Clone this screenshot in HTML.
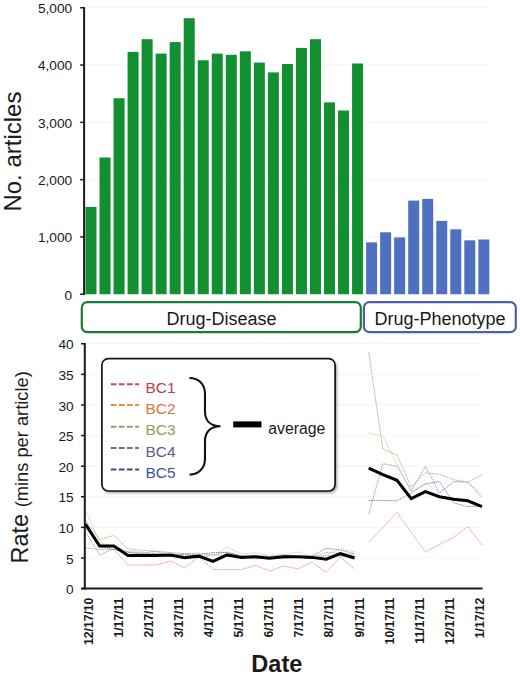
<!DOCTYPE html><html><head><meta charset="utf-8"><style>html,body{margin:0;padding:0;background:#fff;}svg{display:block;}text{font-family:"Liberation Sans",sans-serif;}</style></head><body>
<svg width="520" height="676" viewBox="0 0 520 676">
<line x1="85" x2="489" y1="236.95" y2="236.95" stroke="#f6f6f6" stroke-width="1.2"/>
<line x1="85" x2="489" y1="179.65" y2="179.65" stroke="#f6f6f6" stroke-width="1.2"/>
<line x1="85" x2="489" y1="122.35" y2="122.35" stroke="#f6f6f6" stroke-width="1.2"/>
<line x1="85" x2="489" y1="65.05" y2="65.05" stroke="#f6f6f6" stroke-width="1.2"/>
<line x1="85" x2="489" y1="7.75" y2="7.75" stroke="#f6f6f6" stroke-width="1.2"/>
<rect x="85.50" y="206.90" width="11.0" height="87.35" fill="#128f31"/>
<rect x="99.53" y="157.50" width="11.0" height="136.75" fill="#128f31"/>
<rect x="113.56" y="98.20" width="11.0" height="196.05" fill="#128f31"/>
<rect x="127.59" y="51.90" width="11.0" height="242.35" fill="#128f31"/>
<rect x="141.62" y="39.20" width="11.0" height="255.05" fill="#128f31"/>
<rect x="155.65" y="53.60" width="11.0" height="240.65" fill="#128f31"/>
<rect x="169.68" y="42.10" width="11.0" height="252.15" fill="#128f31"/>
<rect x="183.71" y="18.20" width="11.0" height="276.05" fill="#128f31"/>
<rect x="197.74" y="60.30" width="11.0" height="233.95" fill="#128f31"/>
<rect x="211.77" y="53.60" width="11.0" height="240.65" fill="#128f31"/>
<rect x="225.80" y="54.80" width="11.0" height="239.45" fill="#128f31"/>
<rect x="239.83" y="51.30" width="11.0" height="242.95" fill="#128f31"/>
<rect x="253.86" y="62.60" width="11.0" height="231.65" fill="#128f31"/>
<rect x="267.89" y="72.40" width="11.0" height="221.85" fill="#128f31"/>
<rect x="281.92" y="64.00" width="11.0" height="230.25" fill="#128f31"/>
<rect x="295.95" y="47.90" width="11.0" height="246.35" fill="#128f31"/>
<rect x="309.98" y="39.20" width="11.0" height="255.05" fill="#128f31"/>
<rect x="324.01" y="102.40" width="11.0" height="191.85" fill="#128f31"/>
<rect x="338.04" y="110.50" width="11.0" height="183.75" fill="#128f31"/>
<rect x="352.07" y="63.50" width="11.0" height="230.75" fill="#128f31"/>
<rect x="366.10" y="242.40" width="11.0" height="51.85" fill="#4f70c0"/>
<rect x="380.13" y="232.30" width="11.0" height="61.95" fill="#4f70c0"/>
<rect x="394.16" y="237.40" width="11.0" height="56.85" fill="#4f70c0"/>
<rect x="408.19" y="200.60" width="11.0" height="93.65" fill="#4f70c0"/>
<rect x="422.22" y="198.90" width="11.0" height="95.35" fill="#4f70c0"/>
<rect x="436.25" y="220.90" width="11.0" height="73.35" fill="#4f70c0"/>
<rect x="450.28" y="229.30" width="11.0" height="64.95" fill="#4f70c0"/>
<rect x="464.31" y="240.30" width="11.0" height="53.95" fill="#4f70c0"/>
<rect x="478.34" y="239.50" width="11.0" height="54.75" fill="#4f70c0"/>
<line x1="84.1" x2="84.1" y1="7" y2="295.00" stroke="#1a1a1a" stroke-width="2"/>
<line x1="80.2" x2="84.1" y1="294.25" y2="294.25" stroke="#1a1a1a" stroke-width="1.5"/>
<text x="72.2" y="299.55" font-size="13.7" text-anchor="end" fill="#1a1a1a">0</text>
<line x1="80.2" x2="84.1" y1="236.95" y2="236.95" stroke="#1a1a1a" stroke-width="1.5"/>
<text x="72.2" y="242.25" font-size="13.7" text-anchor="end" fill="#1a1a1a">1,000</text>
<line x1="80.2" x2="84.1" y1="179.65" y2="179.65" stroke="#1a1a1a" stroke-width="1.5"/>
<text x="72.2" y="184.95" font-size="13.7" text-anchor="end" fill="#1a1a1a">2,000</text>
<line x1="80.2" x2="84.1" y1="122.35" y2="122.35" stroke="#1a1a1a" stroke-width="1.5"/>
<text x="72.2" y="127.65" font-size="13.7" text-anchor="end" fill="#1a1a1a">3,000</text>
<line x1="80.2" x2="84.1" y1="65.05" y2="65.05" stroke="#1a1a1a" stroke-width="1.5"/>
<text x="72.2" y="70.35" font-size="13.7" text-anchor="end" fill="#1a1a1a">4,000</text>
<line x1="80.2" x2="84.1" y1="7.75" y2="7.75" stroke="#1a1a1a" stroke-width="1.5"/>
<text x="72.2" y="13.05" font-size="13.7" text-anchor="end" fill="#1a1a1a">5,000</text>
<text transform="translate(21,211.6) rotate(-90)" font-size="24" fill="#1a1a1a">No. articles</text>
<rect x="81.8" y="302.2" width="279" height="29.9" rx="5.5" ry="5.5" fill="#fff" stroke="#1c7a32" stroke-width="2.2"/>
<text x="221.5" y="324.5" font-size="18" text-anchor="middle" fill="#1a1a1a">Drug-Disease</text>
<rect x="363.9" y="302.2" width="151.9" height="30" rx="5.5" ry="5.5" fill="#fff" stroke="#4a60aa" stroke-width="2.2"/>
<text x="440" y="324.5" font-size="18" text-anchor="middle" fill="#1a1a1a">Drug-Phenotype</text>
<line x1="86" x2="482" y1="557.99" y2="557.99" stroke="#f6f6f6" stroke-width="1.2"/>
<line x1="86" x2="482" y1="527.38" y2="527.38" stroke="#f6f6f6" stroke-width="1.2"/>
<line x1="86" x2="482" y1="496.77" y2="496.77" stroke="#f6f6f6" stroke-width="1.2"/>
<line x1="86" x2="482" y1="466.16" y2="466.16" stroke="#f6f6f6" stroke-width="1.2"/>
<line x1="86" x2="482" y1="435.55" y2="435.55" stroke="#f6f6f6" stroke-width="1.2"/>
<line x1="86" x2="482" y1="404.94" y2="404.94" stroke="#f6f6f6" stroke-width="1.2"/>
<line x1="86" x2="482" y1="374.33" y2="374.33" stroke="#f6f6f6" stroke-width="1.2"/>
<line x1="86" x2="482" y1="343.72" y2="343.72" stroke="#f6f6f6" stroke-width="1.2"/>
<path d="M85.50,548.19 L99.66,549.42 L113.82,549.42 L127.98,564.97 L142.14,564.97 L156.30,564.97 L170.46,561.05 L184.62,567.79 L198.78,556.77 L212.94,569.32 L227.10,569.62 L241.26,569.62 L255.42,565.34 L269.58,571.09 L283.74,565.95 L297.90,569.01 L312.06,562.28 L326.22,572.32 L340.38,556.77 L354.54,569.01" fill="none" stroke="#e89a9a" stroke-width="1" stroke-dasharray="1.6 0.8"/>
<path d="M368.70,542.07 L382.86,527.38 L397.02,512.38 L411.18,532.28 L425.34,551.87 L439.50,544.52 L453.66,537.18 L467.82,526.77 L481.98,544.83" fill="none" stroke="#e89a9a" stroke-width="1" stroke-dasharray="1.6 0.8"/>
<path d="M85.50,510.24 L99.66,542.69 L113.82,546.36 L127.98,550.64 L142.14,551.87 L156.30,554.32 L170.46,552.48 L184.62,555.54 L198.78,556.15 L212.94,556.77 L227.10,546.97 L241.26,554.01 L255.42,552.79 L269.58,555.24 L283.74,554.62 L297.90,552.17 L312.06,556.46 L326.22,554.93 L340.38,548.50 L354.54,551.87" fill="none" stroke="#f2c8a0" stroke-width="1" stroke-dasharray="1.6 0.8"/>
<path d="M368.70,433.10 L382.86,436.16 L397.02,464.32 L411.18,491.26 L425.34,483.30 L439.50,493.10 L453.66,482.08 L467.82,482.08 L481.98,494.32" fill="none" stroke="#f2c8a0" stroke-width="1" stroke-dasharray="1.6 0.8"/>
<path d="M85.50,520.03 L99.66,539.62 L113.82,535.34 L127.98,548.81 L142.14,550.34 L156.30,551.26 L170.46,552.48 L184.62,553.70 L198.78,553.09 L212.94,554.93 L227.10,551.87 L241.26,555.85 L255.42,555.24 L269.58,556.46 L283.74,554.62 L297.90,556.46 L312.06,557.07 L326.22,552.48 L340.38,553.09 L354.54,554.93" fill="none" stroke="#a0bf94" stroke-width="1" stroke-dasharray="1.6 0.8"/>
<path d="M368.70,352.29 L382.86,449.02 L397.02,455.14 L411.18,486.97 L425.34,472.89 L439.50,474.12 L453.66,479.63 L467.82,482.08 L481.98,474.73" fill="none" stroke="#a0bf94" stroke-width="1" stroke-dasharray="1.6 0.8"/>
<path d="M85.50,531.67 L99.66,554.93 L113.82,548.81 L127.98,551.87 L142.14,553.09 L156.30,551.26 L170.46,556.15 L184.62,554.32 L198.78,557.38 L212.94,554.32 L227.10,556.15 L241.26,556.46 L255.42,558.91 L269.58,557.68 L283.74,558.30 L297.90,557.07 L312.06,558.30 L326.22,555.54 L340.38,556.15 L354.54,556.77" fill="none" stroke="#a89cc8" stroke-width="1" stroke-dasharray="1.6 0.8"/>
<path d="M368.70,513.91 L382.86,463.71 L397.02,466.16 L411.18,490.65 L425.34,466.40 L439.50,493.10 L453.66,481.47 L467.82,482.08 L481.98,497.38" fill="none" stroke="#a89cc8" stroke-width="1" stroke-dasharray="1.6 0.8"/>
<path d="M85.50,521.26 L99.66,546.36 L113.82,549.42 L127.98,552.48 L142.14,553.70 L156.30,553.70 L170.46,556.15 L184.62,553.70 L198.78,554.93 L212.94,552.48 L227.10,552.48 L241.26,555.85 L255.42,556.46 L269.58,557.07 L283.74,555.85 L297.90,556.46 L312.06,555.85 L326.22,548.19 L340.38,550.03 L354.54,553.70" fill="none" stroke="#7f8ec4" stroke-width="1" stroke-dasharray="1.6 0.8"/>
<path d="M368.70,500.44 L382.86,500.44 L397.02,500.75 L411.18,493.10 L425.34,483.91 L439.50,481.47 L453.66,502.89 L467.82,506.57 L481.98,505.95" fill="none" stroke="#7f8ec4" stroke-width="1" stroke-dasharray="1.6 0.8"/>
<path d="M85.50,524.32 L99.66,545.99 L113.82,545.99 L127.98,555.54 L142.14,555.54 L156.30,555.54 L170.46,554.93 L184.62,557.62 L198.78,556.15 L212.94,561.36 L227.10,554.93 L241.26,557.38 L255.42,556.77 L269.58,558.17 L283.74,556.77 L297.90,556.77 L312.06,557.38 L326.22,559.21 L340.38,553.70 L354.54,557.99" fill="none" stroke="#000" stroke-width="3.0" stroke-linejoin="miter"/>
<path d="M368.70,468.18 L382.86,474.73 L397.02,480.24 L411.18,498.61 L425.34,491.57 L439.50,496.77 L453.66,499.22 L467.82,500.75 L481.98,506.57" fill="none" stroke="#000" stroke-width="3.0" stroke-linejoin="miter"/>
<line x1="84.8" x2="84.8" y1="343" y2="589.60" stroke="#1a1a1a" stroke-width="2"/>
<line x1="81.4" x2="482.6" y1="588.60" y2="588.60" stroke="#1a1a1a" stroke-width="2"/>
<line x1="81" x2="84.8" y1="588.60" y2="588.60" stroke="#1a1a1a" stroke-width="1.5"/>
<text x="73.7" y="594.30" font-size="13.7" text-anchor="end" fill="#1a1a1a">0</text>
<line x1="81" x2="84.8" y1="557.99" y2="557.99" stroke="#1a1a1a" stroke-width="1.5"/>
<text x="73.7" y="563.69" font-size="13.7" text-anchor="end" fill="#1a1a1a">5</text>
<line x1="81" x2="84.8" y1="527.38" y2="527.38" stroke="#1a1a1a" stroke-width="1.5"/>
<text x="73.7" y="533.08" font-size="13.7" text-anchor="end" fill="#1a1a1a">10</text>
<line x1="81" x2="84.8" y1="496.77" y2="496.77" stroke="#1a1a1a" stroke-width="1.5"/>
<text x="73.7" y="502.47" font-size="13.7" text-anchor="end" fill="#1a1a1a">15</text>
<line x1="81" x2="84.8" y1="466.16" y2="466.16" stroke="#1a1a1a" stroke-width="1.5"/>
<text x="73.7" y="471.86" font-size="13.7" text-anchor="end" fill="#1a1a1a">20</text>
<line x1="81" x2="84.8" y1="435.55" y2="435.55" stroke="#1a1a1a" stroke-width="1.5"/>
<text x="73.7" y="441.25" font-size="13.7" text-anchor="end" fill="#1a1a1a">25</text>
<line x1="81" x2="84.8" y1="404.94" y2="404.94" stroke="#1a1a1a" stroke-width="1.5"/>
<text x="73.7" y="410.64" font-size="13.7" text-anchor="end" fill="#1a1a1a">30</text>
<line x1="81" x2="84.8" y1="374.33" y2="374.33" stroke="#1a1a1a" stroke-width="1.5"/>
<text x="73.7" y="380.03" font-size="13.7" text-anchor="end" fill="#1a1a1a">35</text>
<line x1="81" x2="84.8" y1="343.72" y2="343.72" stroke="#1a1a1a" stroke-width="1.5"/>
<text x="73.7" y="349.42" font-size="13.7" text-anchor="end" fill="#1a1a1a">40</text>
<text transform="translate(93.00,597.6) rotate(-90)" font-size="12.2" font-weight="bold" text-anchor="end" fill="#1a1a1a">12/17/10</text>
<text transform="translate(123.06,597.6) rotate(-90)" font-size="12.2" font-weight="bold" text-anchor="end" fill="#1a1a1a">1/17/11</text>
<text transform="translate(153.12,597.6) rotate(-90)" font-size="12.2" font-weight="bold" text-anchor="end" fill="#1a1a1a">2/17/11</text>
<text transform="translate(183.18,597.6) rotate(-90)" font-size="12.2" font-weight="bold" text-anchor="end" fill="#1a1a1a">3/17/11</text>
<text transform="translate(213.24,597.6) rotate(-90)" font-size="12.2" font-weight="bold" text-anchor="end" fill="#1a1a1a">4/17/11</text>
<text transform="translate(243.30,597.6) rotate(-90)" font-size="12.2" font-weight="bold" text-anchor="end" fill="#1a1a1a">5/17/11</text>
<text transform="translate(273.36,597.6) rotate(-90)" font-size="12.2" font-weight="bold" text-anchor="end" fill="#1a1a1a">6/17/11</text>
<text transform="translate(303.42,597.6) rotate(-90)" font-size="12.2" font-weight="bold" text-anchor="end" fill="#1a1a1a">7/17/11</text>
<text transform="translate(333.48,597.6) rotate(-90)" font-size="12.2" font-weight="bold" text-anchor="end" fill="#1a1a1a">8/17/11</text>
<text transform="translate(363.54,597.6) rotate(-90)" font-size="12.2" font-weight="bold" text-anchor="end" fill="#1a1a1a">9/17/11</text>
<text transform="translate(393.60,597.6) rotate(-90)" font-size="12.2" font-weight="bold" text-anchor="end" fill="#1a1a1a">10/17/11</text>
<text transform="translate(423.66,597.6) rotate(-90)" font-size="12.2" font-weight="bold" text-anchor="end" fill="#1a1a1a">11/17/11</text>
<text transform="translate(453.72,597.6) rotate(-90)" font-size="12.2" font-weight="bold" text-anchor="end" fill="#1a1a1a">12/17/11</text>
<text transform="translate(483.78,597.6) rotate(-90)" font-size="12.2" font-weight="bold" text-anchor="end" fill="#1a1a1a">1/17/12</text>
<text x="276.9" y="672" font-size="23.6" font-weight="bold" text-anchor="middle" fill="#1a1a1a">Date</text>
<text transform="translate(28.2,563.5) rotate(-90)" fill="#1a1a1a"><tspan font-size="23.5">Rate </tspan><tspan font-size="18.3">(mins per article)</tspan></text>
<defs><filter id="sh" x="-10%" y="-10%" width="120%" height="120%"><feGaussianBlur stdDeviation="1.6"/></filter></defs>
<rect x="103.6" y="360.4" width="233.2" height="132.4" rx="6.5" ry="6.5" fill="#8f8f8f" filter="url(#sh)"/>
<rect x="101.9" y="358.6" width="233.2" height="132.4" rx="6.5" ry="6.5" fill="#fff" stroke="#151515" stroke-width="1.7"/>
<line x1="110.8" x2="139" y1="384.2" y2="384.2" stroke="#c8485a" stroke-width="1.9" stroke-dasharray="5.6 2.5"/>
<text x="145.5" y="393.3" font-size="15.5" fill="#c23c48">BC1</text>
<line x1="110.8" x2="139" y1="405" y2="405" stroke="#e08a44" stroke-width="1.9" stroke-dasharray="5.6 2.5"/>
<text x="145.5" y="414.4" font-size="15.5" fill="#d4783c">BC2</text>
<line x1="110.8" x2="139" y1="426.7" y2="426.7" stroke="#8a9e78" stroke-width="1.9" stroke-dasharray="5.6 2.5"/>
<text x="145.5" y="435.4" font-size="15.5" fill="#86a45a">BC3</text>
<line x1="110.8" x2="139" y1="448" y2="448" stroke="#6c6a8a" stroke-width="1.9" stroke-dasharray="5.6 2.5"/>
<text x="145.5" y="456.9" font-size="15.5" fill="#5e5c80">BC4</text>
<line x1="110.8" x2="139" y1="469.5" y2="469.5" stroke="#3a4c8c" stroke-width="1.9" stroke-dasharray="5.6 2.5"/>
<text x="145.5" y="478.3" font-size="15.5" fill="#3a52a0">BC5</text>
<path d="M189.4,378 C198.5,378 205,384 205,394 L205,411.5 C205,420.5 210.5,426.2 220.5,426.2 C210.5,426.2 205,432 205,441 L205,458.5 C205,468.5 198.5,474.6 189.6,474.6" fill="none" stroke="#111" stroke-width="2.1"/>
<rect x="233.2" y="421.4" width="28.3" height="6" fill="#000"/>
<text x="268.3" y="433.7" font-size="15.8" fill="#1a1a1a">average</text>
</svg></body></html>
